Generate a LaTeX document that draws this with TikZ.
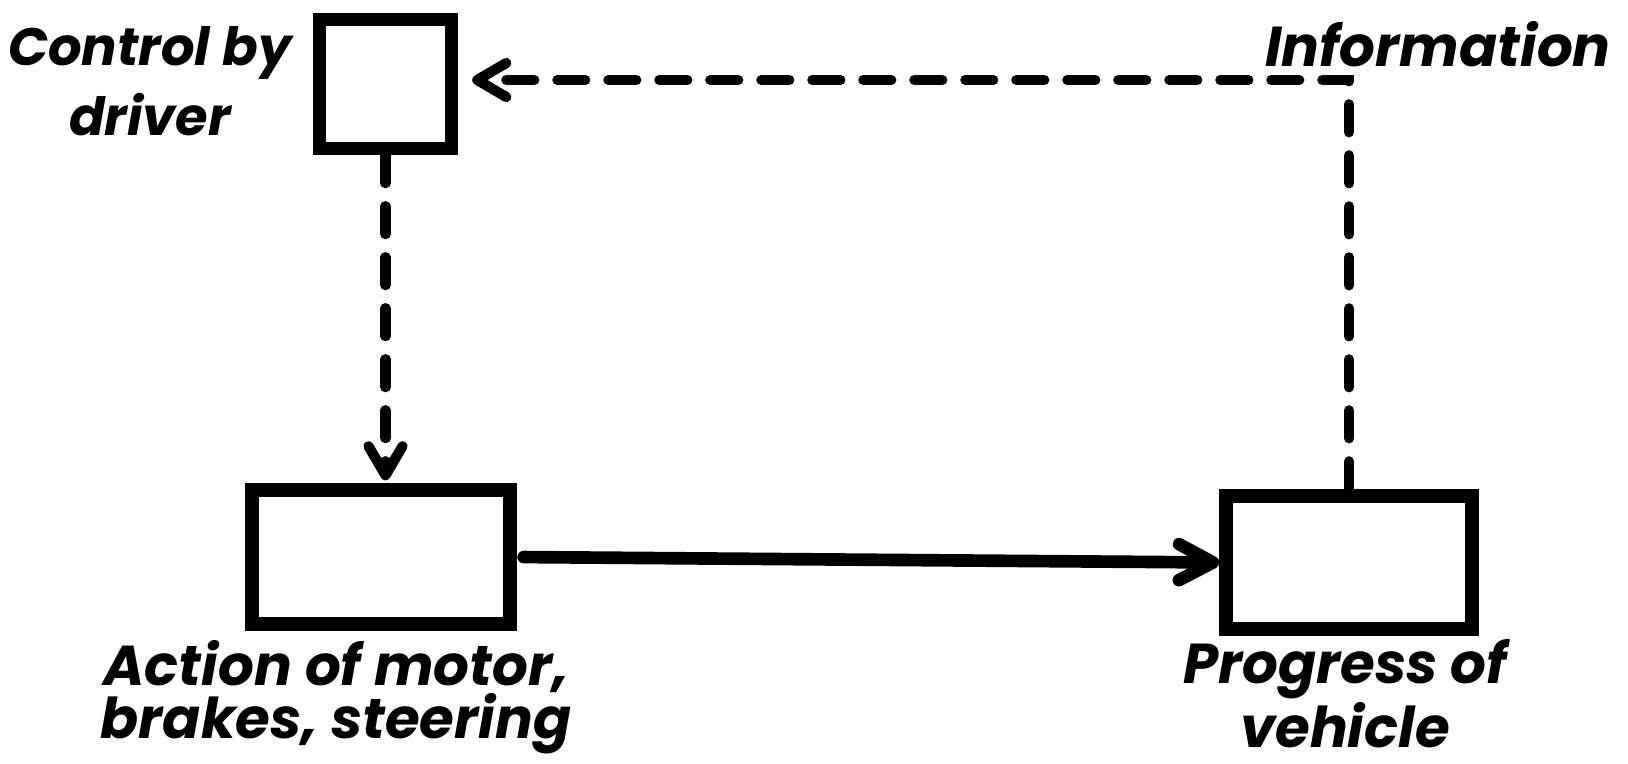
\documentclass[tikz,border=0pt]{standalone}
\usepackage{fontspec}
\setmainfont{Poppins}
\usetikzlibrary{arrows.meta,positioning}
\tikzset{
  stage/.style={rectangle, draw=black, line width=3.8pt, fill=white,
                inner sep=0pt},
  lbl/.style={font=\fontsize{16}{19}\selectfont\bfseries\itshape,
              align=center, inner sep=0pt},
  flow/.style={-{Straight Barb[length=3.4mm, width=3.6mm, round]},
               line width=3.6pt, line cap=round},
  infoflow/.style={-{Straight Barb[length=2.9mm, width=3.4mm, round]},
                   line width=2.9pt, line cap=round,
                   dash pattern=on 2.8mm off 2.3mm},
}

\begin{document}
\begin{tikzpicture}[x=0.1mm, y=-0.1mm]
\useasboundingbox (0,0) rectangle (1628,764);

% ── the three stages ──────────────────────────────────────
\node[stage, minimum width=13.2mm, minimum height=12.9mm] (ctrl) at (385.5,84) {};
\node[stage, minimum width=25.8mm, minimum height=13.4mm] (action) at (381,557) {};
\node[stage, minimum width=24.6mm, minimum height=13.3mm] (vehicle) at (1349,562.5) {};

% ── labels ────────────────────────────────────────────────
\node[lbl, font=\fontsize{15}{20}\selectfont\bfseries\itshape] (ctrl@txt)
      at (150,81) {Control by\\driver};
\node[lbl, anchor=base] (info@txt) at (1438,66) {Information};
\node[lbl, font=\fontsize{16}{15}\selectfont\bfseries\itshape] (action@txt)
      at (336,697) {Action of motor,\\brakes, steering};
\node[lbl, font=\fontsize{16}{16}\selectfont\bfseries\itshape] (vehicle@txt)
      at (1345,694) {Progress of\\vehicle};

% ── connectors ────────────────────────────────────────────
\draw[infoflow, shorten >=0.3mm] (ctrl.south) -- (ctrl.south |- action.north);
\draw[flow, shorten <=0.7mm] (action.east) -- (vehicle.west);
\draw[infoflow, shorten >=1.4mm] (vehicle.north) |- ([yshift=0.4mm]ctrl.east);

\end{tikzpicture}
\end{document}
